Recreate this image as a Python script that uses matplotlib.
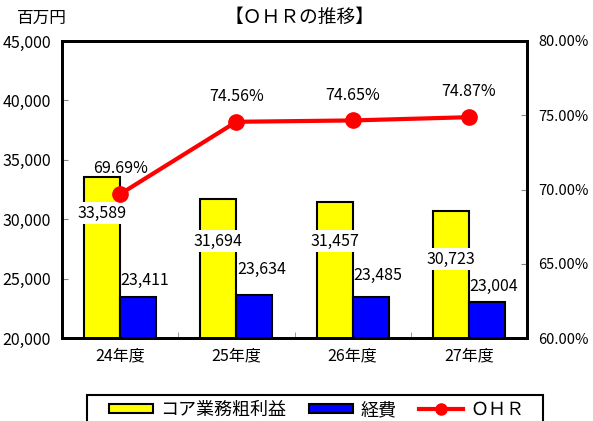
import numpy as np
import matplotlib.pyplot as plt
from matplotlib.lines import Line2D
from matplotlib.patches import Patch, Rectangle

plt.rcParams['font.family'] = ['Noto Sans CJK JP', 'DejaVu Sans']

years = ['24年度', '25年度', '26年度', '27年度']
core_profit = [33589, 31694, 31457, 30723]
expenses = [23411, 23634, 23485, 23004]
ohr = [69.69, 74.56, 74.65, 74.87]

# label placement offsets (data units)
core_lbl_off = [-3070, -3530, -3290, -4070]
exp_lbl_off = [1470, 2100, 1800, 1300]

fig = plt.figure(figsize=(5.93, 4.21), dpi=100)
ax = fig.add_axes([62 / 593, 1 - 338 / 421, 465 / 593, 297 / 421])
ax2 = ax.twinx()

x = np.arange(len(years))
w = 0.31
ax.bar(x - w / 2, core_profit, w, color='yellow', edgecolor='black', linewidth=1.5, zorder=2)
ax.bar(x + w / 2, expenses, w, color='blue', edgecolor='black', linewidth=1.5, zorder=2)

for i in range(len(x)):
    ax.text(x[i] - w / 2, core_profit[i] + core_lbl_off[i], f'{core_profit[i]:,}', ha='center', va='center',
            fontsize=11.5, bbox=dict(facecolor='white', edgecolor='none', pad=1.5), zorder=3)
    ax.text(x[i] + w / 2 + 0.06, expenses[i] + exp_lbl_off[i], f'{expenses[i]:,}', ha='center', va='center',
            fontsize=11.5, zorder=3)

ax.set_xlim(-0.5, 3.5)
ax.set_ylim(20000, 45000)
ax.set_yticks(np.arange(20000, 45001, 5000))
ax.set_yticklabels([f'{v:,}' for v in range(20000, 45001, 5000)], fontsize=11.5)
ax.set_xticks(x)
ax.set_xticklabels(years, fontsize=11.5)
ax.set_xticks(np.arange(-0.5, 3.6, 1), minor=True)
ax.tick_params(axis='x', which='major', length=0, pad=7)
ax.tick_params(axis='x', which='minor', direction='in', length=4, color='#888888')
ax.tick_params(axis='y', direction='in', length=4, color='#888888', pad=8)

ax2.plot(x, ohr, color='red', lw=3, marker='o', markersize=11, zorder=4)
for i in range(len(x)):
    ax2.text(x[i], ohr[i] + 1.7, f'{ohr[i]:.2f}%', ha='center', va='center', fontsize=11.5)
ax2.set_ylim(60, 80)
ax2.set_yticks(np.arange(60, 80.1, 5))
ax2.set_yticklabels([f'{v:.2f}%' for v in np.arange(60, 80.1, 5)], fontsize=10.5)
ax2.tick_params(axis='y', direction='in', length=4, color='#888888', pad=8)

for a in (ax, ax2):
    for s in a.spines.values():
        s.set_linewidth(2)
ax.set_zorder(ax2.get_zorder() - 1)
ax.patch.set_visible(False)

fig.text(42 / 593, 1 - 18 / 421, '百万円', ha='center', va='center', fontsize=12)
fig.text(300 / 593, 1 - 17 / 421, '【ＯＨＲの推移】', ha='center', va='center', fontsize=13.5)

# legend frame runs off the bottom of the figure
fig.patches.append(Rectangle((87 / 593, -0.05), 456 / 593, 0.05 + (421 - 395) / 421,
                             transform=fig.transFigure, facecolor='white', edgecolor='black',
                             linewidth=1.5, zorder=5))
handles = [Patch(facecolor='yellow', edgecolor='black', linewidth=1.5),
           Patch(facecolor='blue', edgecolor='black', linewidth=1.5),
           Line2D([0], [0], color='red', lw=3, marker='o', markersize=8)]
leg = fig.legend(handles, ['コア業務粗利益', '経費', 'ＯＨＲ'], loc='center left',
                 bbox_to_anchor=(109 / 593, 1 - 410 / 421), ncol=3, fontsize=13,
                 frameon=False, borderpad=0, borderaxespad=0,
                 handlelength=2.45, handleheight=0.4, handletextpad=0.4, columnspacing=1.25)
leg.set_zorder(6)

fig.savefig('out.png', dpi=100)
